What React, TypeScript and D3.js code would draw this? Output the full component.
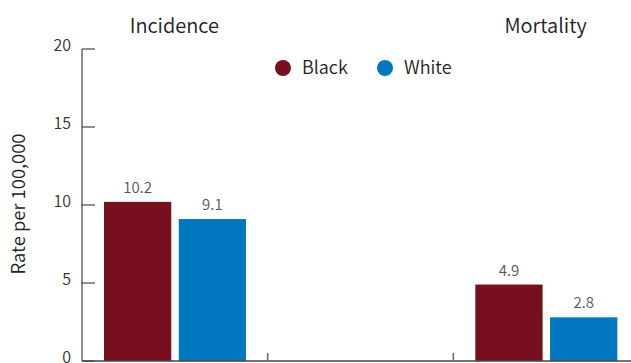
import React from "react";
import * as d3 from "d3";

const categories = ["Incidence", "", "Mortality"];
const series = ["Black", "White"];
const blackValues = [10.2, null, 4.9];
const whiteValues = [9.1, null, 2.8];
const yTicks = [0, 5, 10, 15, 20];
const colors = ["#780f1f", "#0077be"];

const W = 631;
const H = 363;
const FONT = "'Noto Sans CJK KR', 'Noto Sans', sans-serif";

export default function App() {
  const x0 = d3.scaleBand<string>().domain(categories.map((c, i) => String(i))).range([82, 639]).paddingInner(0).paddingOuter(0);
  const x1 = d3.scaleBand<string>().domain(series).range([22, 164]).paddingInner(0.1);
  const y = d3.scaleLinear().domain([0, 20]).range([361, 49]);
  const valuesBySeries = [blackValues, whiteValues];

  const boundaries = categories.slice(1).map((_, i) => (x0(String(i + 1)) as number));

  return (
    <svg width={W} height={H} style={{ position: "absolute", left: 0, top: 0, fontFamily: FONT, fontWeight: 350 }}>
      <rect width={W} height={H} fill="#fff" />
      {categories.map((c, i) =>
        c ? (
          <text key={c} x={(x0(String(i)) as number) + x0.bandwidth() / 2 - 0.5} y={33} textAnchor="middle" fontSize={20} fill="#222">
            {c}
          </text>
        ) : null
      )}
      {categories.map((c, i) =>
        series.map((s, j) => {
          const v = valuesBySeries[j][i];
          if (v == null) return null;
          const bx = (x0(String(i)) as number) + (x1(s) as number);
          return (
            <g key={c + s}>
              <rect x={bx} y={y(v)} width={x1.bandwidth()} height={y(0) - y(v)} fill={colors[j]} />
              <text x={bx + x1.bandwidth() / 2} y={y(v) - 9} textAnchor="middle" fontSize={15} fill="#555">
                {v.toFixed(1)}
              </text>
            </g>
          );
        })
      )}
      <line x1={82} x2={82} y1={y(20)} y2={y(0)} stroke="#222" strokeWidth={1} />
      {yTicks.map((t) => (
        <g key={t}>
          <line x1={82} x2={95} y1={y(t)} y2={y(t)} stroke="#222" strokeWidth={1} />
          <text x={71} y={y(t) + 2} textAnchor="end" fontSize={16} fill="#333">
            {t}
          </text>
        </g>
      ))}
      <line x1={82} x2={W} y1={y(0)} y2={y(0)} stroke="#444" strokeWidth={1.5} />
      {boundaries.map((b, i) => (
        <line key={i} x1={b} x2={b} y1={y(0)} y2={y(0) - 8} stroke="#666" strokeWidth={1.5} />
      ))}
      <text transform={`translate(25,${y(10) - 1}) rotate(-90)`} textAnchor="middle" fontSize={18.5} fill="#222">
        Rate per 100,000
      </text>
      {series.map((s, j) => {
        const lx = [283, 385][j];
        return (
          <g key={s}>
            <circle cx={lx} cy={68} r={8} fill={colors[j]} />
            <text x={lx + 19} y={74} fontSize={18} fill="#222">
              {s}
            </text>
          </g>
        );
      })}
    </svg>
  );
}
